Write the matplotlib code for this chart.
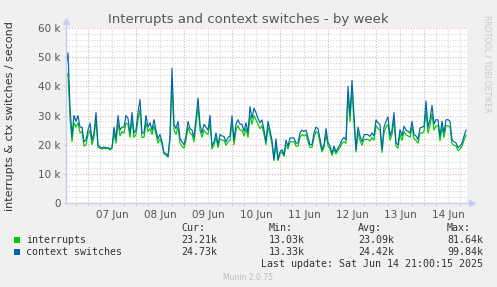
import matplotlib
matplotlib.use("Agg")
import matplotlib.pyplot as plt
import numpy as np
from datetime import datetime, timedelta

# ---------------- data ----------------
start_time = datetime(2025, 6, 6, 13, 0)
step_hours = 1.0

context_switches = [
    47, 51.5, 33, 23, 30, 28, 30, 26, 26, 21,
    21.7, 25, 27.4, 21.5, 24, 31, 20, 19.2, 18.9, 19.2,
    18.9, 19, 18.5, 19, 26, 22, 30, 25, 26, 26,
    30, 29, 24, 31, 24, 25, 31, 35.5, 24, 24,
    30, 26, 27.5, 25, 28.6, 25, 22, 23.5, 21, 17.2,
    17, 16, 23, 46.2, 27, 25.5, 28, 22, 21, 20,
    23, 28, 25.5, 25, 22.5, 29, 36, 27, 24, 27,
    26, 25, 30, 19.5, 21, 24, 20, 23.5, 23, 22.8,
    21, 22.5, 23, 29.9, 21.5, 27, 28.6, 27, 27, 24.6,
    27.5, 24, 33, 29, 32.5, 31, 29, 27.5, 28.5, 25,
    21, 28, 25, 21.5, 15, 22, 15, 17.5, 18.3, 16.5,
    21.5, 19.5, 22.3, 22.3, 22.3, 20.5, 20.6, 24, 25, 24.5,
    25, 22.5, 20, 20, 24, 26, 25.5, 22, 18.3, 20,
    25.5, 20.8, 19.5, 17, 19.5, 17.5, 18.9, 20, 21.7, 22.5,
    21.7, 40, 30, 42, 30, 18.3, 26, 23, 21, 23.4,
    23.5, 23.4, 22.8, 24, 23, 28.5, 27.4, 27, 18.3, 26,
    28, 29.5, 23, 25, 31, 20.6, 20, 25.2, 23, 26.3,
    25, 24.6, 24, 28, 23.5, 23, 21.8, 25.7, 26, 26.3,
    35, 26, 28.6, 33.5, 27, 28.6, 28.5, 22.9, 28, 24,
    28.5, 28.6, 28, 21.7, 21, 20.6, 19, 19.5, 20.5, 22.9,
    25,
]

interrupts = [
    43, 44.5, 29, 21, 27.5, 26, 27.5, 24, 24.5, 19.5,
    20, 23.5, 25, 20, 22.5, 28.5, 19, 18.8, 18.5, 18.8,
    18.6, 18.8, 18.2, 18.7, 24, 20.5, 27.5, 23, 24.5, 24,
    27.5, 27, 22.5, 28.5, 22.5, 23.5, 28.5, 32, 22.5, 22.5,
    27.5, 24.5, 25.5, 23.5, 26.5, 23.5, 20.5, 22, 20, 16.8,
    16.5, 15.7, 21.5, 41, 25, 23.5, 26, 20.5, 19.5, 18.8,
    21.5, 26, 24, 23.5, 21, 27, 33, 25, 22.5, 25,
    24, 23.5, 27.5, 18.5, 19.8, 22.5, 19, 22, 21.5, 21.5,
    19.8, 21, 21.5, 27.5, 20, 25, 26.5, 25, 25, 23,
    25.5, 22.5, 30, 27, 30, 28.5, 27, 25.5, 26.5, 23.5,
    20, 26, 23.5, 20, 14.5, 20.5, 14.5, 16.8, 17.5, 16,
    20, 18.5, 21, 21, 21, 19.5, 19.5, 22.5, 23.5, 23,
    23.5, 21, 19, 19, 22.5, 24.5, 24, 20.5, 17.5, 19,
    23.5, 19.5, 18.5, 16.3, 18.5, 16.8, 18, 19, 20.5, 21,
    20.5, 37, 28, 39, 27.5, 17.5, 24, 21.5, 19.8, 21.8,
    21.8, 21.8, 21.3, 22.5, 21.5, 26.5, 25.5, 25, 17.3, 24,
    26, 27, 21.5, 23.5, 28.5, 19.5, 18.8, 23.5, 21.5, 24.5,
    23.3, 23, 22.5, 26, 22, 21.5, 20.5, 24, 24, 24.5,
    31.5, 24, 26.5, 30.5, 25, 26.5, 26.5, 21.3, 26, 22.5,
    26.5, 26.5, 26, 20.3, 19.8, 19.5, 18, 18.5, 19.5, 21.5,
    23.2,
]

series_names = ["interrupts", "context switches"]
series_colors = ["#00CC00", "#0066B3"]
stats_headers = ["Cur:", "Min:", "Avg:", "Max:"]
stats_interrupts = ["23.21k", "13.03k", "23.09k", "81.64k"]
stats_ctx = ["24.73k", "13.33k", "24.42k", "99.84k"]
y_ticks = [0, 10000, 20000, 30000, 40000, 50000, 60000]
y_tick_labels = ["0", "10 k", "20 k", "30 k", "40 k", "50 k", "60 k"]
day_labels = ["07 Jun", "08 Jun", "09 Jun", "10 Jun", "11 Jun", "12 Jun", "13 Jun", "14 Jun"]

# ---------------- figure ----------------
W, H = 497, 287
fig = plt.figure(figsize=(W / 100, H / 100), dpi=100)
fig.patch.set_facecolor("#F0F0F0")

px_left, px_right, px_top, px_bottom = 66, 467, 28, 203
ax = fig.add_axes([px_left / W, 1 - px_bottom / H,
                   (px_right - px_left) / W, (px_bottom - px_top) / H])
ax.set_facecolor("white")

n = len(context_switches)
hours = np.arange(n) * step_hours
x_max = 200.5
ax.set_xlim(0, x_max)
ax.set_ylim(0, 60000)

# grid
minor_col = "#D4D4D4"
major_col = "#E8B0B0"
for v in np.arange(0, 60001, 2000):
    if v % 10000 == 0:
        ax.axhline(v, color=major_col, lw=0.8, ls=(0, (1, 1.5)), zorder=1)
    else:
        ax.axhline(v, color=minor_col, lw=0.8, ls=(0, (1, 1.5)), zorder=0.5)

first_midnight = (datetime(2025, 6, 7) - start_time).total_seconds() / 3600
h = first_midnight - 24
minor_pos = []
while h <= x_max:
    for k in range(4):
        xx = h + 6 * k
        if 0 < xx < x_max:
            minor_pos.append(xx)
            if k == 0:
                ax.axvline(xx, color=major_col, lw=0.8, ls=(0, (1, 1.5)), zorder=1)
            else:
                ax.axvline(xx, color=minor_col, lw=0.8, ls=(0, (1, 1.5)), zorder=0.5)
    h += 24

# data lines
ax.plot(hours, np.array(interrupts) * 1000, color=series_colors[0], lw=0.85, zorder=3)
ax.plot(hours, np.array(context_switches) * 1000, color=series_colors[1], lw=0.85, zorder=4)

# ticks
ax.set_yticks(y_ticks)
ax.set_yticklabels(y_tick_labels)
noon_pos = [first_midnight + 12 + 24 * i for i in range(len(day_labels))]
ax.set_xticks(noon_pos)
ax.set_xticklabels(day_labels)
ax.set_xticks(minor_pos, minor=True)
ax.tick_params(axis="x", which="major", length=0, labelsize=7.5, colors="#555555", pad=5)
ax.tick_params(axis="x", which="minor", length=2, width=0.8, color="#D4D4D4")
ax.tick_params(axis="y", which="major", length=2, width=0.8, color="#D4D4D4",
               labelsize=7.5, labelcolor="#555555", pad=2)
for s in ax.spines.values():
    s.set_visible(False)

# axes lines with arrows
axis_col = "#C8CCEE"
ax.plot([0, 0], [0, 61500], color=axis_col, lw=1, clip_on=False, zorder=5)
ax.plot([0, x_max + 1.5], [0, 0], color=axis_col, lw=1, clip_on=False, zorder=5)
ax.plot([0], [62500], marker="^", color=axis_col, ms=4, clip_on=False, zorder=5)
ax.plot([x_max + 2.5], [0], marker=">", color=axis_col, ms=4, clip_on=False, zorder=5)

# title & labels
fig.text(248.5 / W, 1 - 19 / H, "Interrupts and context switches - by week",
         ha="center", va="center", fontsize=9.5, color="#555555")
fig.text(10 / W, 1 - 116 / H, "interrupts & ctx switches / second", rotation=90,
         ha="center", va="center", fontsize=8, color="#333333")
fig.text(487 / W, 1 - 15 / H, "RRDTOOL / TOBI OETIKER", rotation=270,
         ha="center", va="top", fontsize=5.5, color="#C8C8C8")

# legend
mono = "DejaVu Sans Mono"
fs = 7.2
col_x = [181, 269, 358, 447]
for cx, t in zip(col_x, stats_headers):
    fig.text(cx / W, 1 - 228 / H, t, ha="left", va="center", family=mono, fontsize=fs, color="#333333")
rows = [(240, series_names[0], series_colors[0], stats_interrupts),
        (252, series_names[1], series_colors[1], stats_ctx)]
for y, name, c, stats in rows:
    fig.patches.append(matplotlib.patches.Rectangle(
        (14 / W, 1 - (y + 3) / H), 6 / W, 6 / H, transform=fig.transFigure,
        facecolor=c, edgecolor="none"))
    fig.text(26 / W, 1 - y / H, name, ha="left", va="center", family=mono, fontsize=fs, color="#333333")
    for cx, t in zip(col_x, stats):
        fig.text(cx / W, 1 - y / H, t, ha="left", va="center", family=mono, fontsize=fs, color="#333333")
fig.text(483 / W, 1 - 264 / H, "Last update: Sat Jun 14 21:00:15 2025",
         ha="right", va="center", family=mono, fontsize=fs, color="#333333")
fig.text(248 / W, 1 - 277 / H, "Munin 2.0.75", ha="center", va="center",
         fontsize=5.5, color="#BBBBBB")

fig.savefig("out.png", dpi=100, facecolor=fig.get_facecolor())
